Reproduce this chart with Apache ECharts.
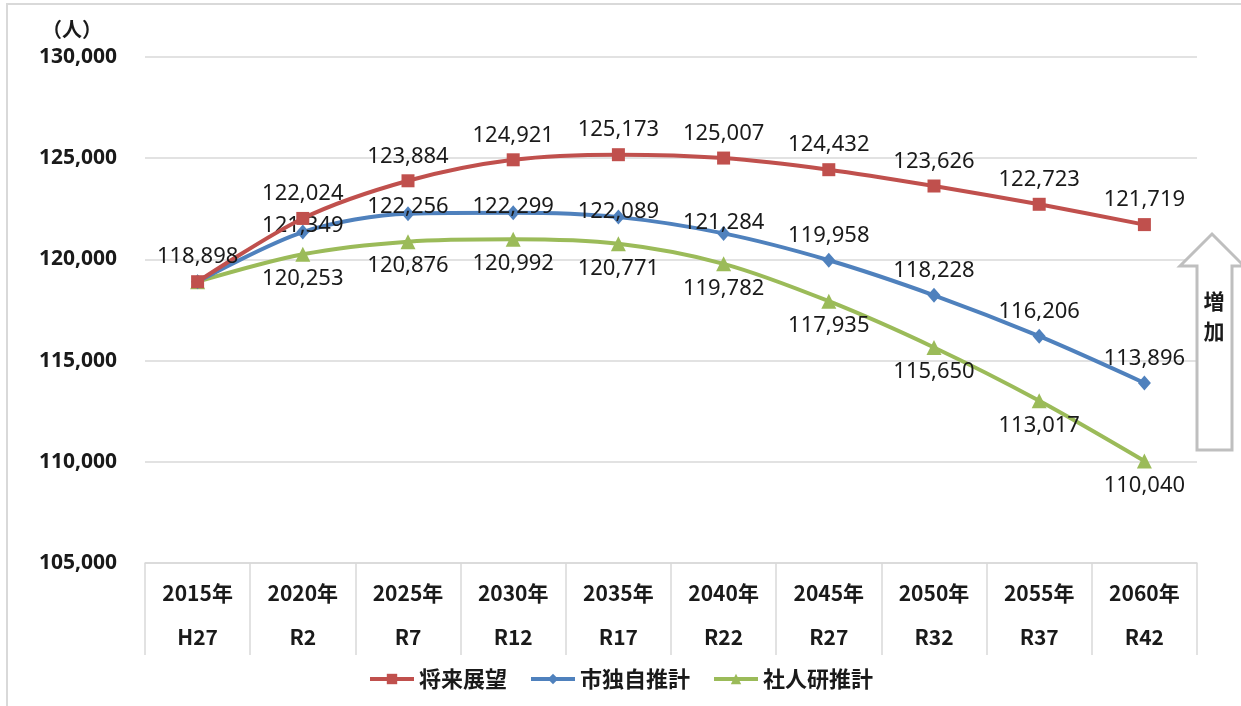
<!DOCTYPE html>
<html>
<head>
<meta charset="utf-8">
<script src="https://cdn.jsdelivr.net/npm/echarts@6/dist/echarts.min.js"></script>
<style>
  html, body { margin: 0; padding: 0; background: #fff; }
  #chart { width: 1241px; height: 706px; }
</style>
</head>
<body>
<div id="chart"></div>
<script>
// data
var years = ['2015年', '2020年', '2025年', '2030年', '2035年', '2040年', '2045年', '2050年', '2055年', '2060年'];
var eras = ['H27', 'R2', 'R7', 'R12', 'R17', 'R22', 'R27', 'R32', 'R37', 'R42'];
var seriesNames = ['将来展望', '市独自推計', '社人研推計'];
var shoraiTenbo = [118898, 122024, 123884, 124921, 125173, 125007, 124432, 123626, 122723, 121719];
var shiDokuji = [118898, 121349, 122256, 122299, 122089, 121284, 119958, 118228, 116206, 113896];
var shajinken = [118898, 120253, 120876, 120992, 120771, 119782, 117935, 115650, 113017, 110040];
var yTicks = [105000, 110000, 115000, 120000, 125000, 130000];

var chart = echarts.init(document.getElementById('chart'));

function fmt(v) {
    return Number(v).toLocaleString('en-US');
}

// blue labels sit on the line for the first points
var blueDrop = [0, 18, 17, 18, 19, 14, 0, 0, 0, 0];

function items(values, hideFirst, drops) {
    return values.map(function (v, i) {
        var it = { value: v };
        if (hideFirst && i === 0) {
            it.label = { show: false };
        } else if (drops && drops[i]) {
            it.label = { offset: [0, drops[i]] };
        }
        return it;
    });
}

var labelFont = {
    fontFamily: 'Noto Sans',
    fontSize: 22,
    color: '#1a1a1a'
};

var option = {
    backgroundColor: '#fff',
    animation: false,
    grid: {
        left: 145,
        right: 44,
        top: 57,
        bottom: 143
    },
    legend: {
        data: seriesNames,
        left: 'center',
        top: 663,
        itemWidth: 44,
        itemHeight: 13,
        itemGap: 22,
        lineStyle: { width: 4 },
        textStyle: {
            fontFamily: 'Noto Sans CJK JP',
            fontWeight: 'bold',
            fontSize: 22,
            color: '#1a1a1a'
        }
    },
    xAxis: {
        type: 'category',
        data: years,
        boundaryGap: true,
        axisLine: { lineStyle: { color: '#d9d9d9', width: 1.5 } },
        axisTick: {
            show: true,
            interval: 0,
            length: 92,
            lineStyle: { color: '#d9d9d9', width: 1.5 }
        },
        axisLabel: {
            interval: 0,
            margin: 8,
            lineHeight: 44,
            fontFamily: 'Noto Sans CJK JP',
            fontWeight: 'bold',
            fontSize: 21,
            color: '#1a1a1a',
            formatter: function (v, i) {
                return v + '\n' + eras[i];
            }
        }
    },
    yAxis: {
        type: 'value',
        min: yTicks[0],
        max: yTicks[yTicks.length - 1],
        interval: 5000,
        axisLine: { show: false },
        axisTick: { show: false },
        splitLine: { lineStyle: { color: '#d9d9d9', width: 1.5 } },
        axisLabel: {
            margin: 28,
            fontFamily: 'Noto Sans',
            fontWeight: 'bold',
            fontSize: 21,
            color: '#1a1a1a',
            formatter: fmt
        }
    },
    graphic: [
        {
            type: 'rect',
            shape: { x: 7, y: 4, width: 1250, height: 720 },
            style: { fill: 'none', stroke: '#d9d9d9', lineWidth: 2 },
            silent: true
        },
        {
            type: 'text',
            left: 42,
            top: 19,
            style: {
                text: '（人）',
                fontFamily: 'Noto Sans CJK JP',
                fontWeight: 'bold',
                fontSize: 20,
                fill: '#1a1a1a'
            }
        },
        {
            type: 'polygon',
            shape: {
                points: [[1212, 234], [1244, 266], [1232, 266], [1232, 450], [1197, 450], [1197, 266], [1180, 266]]
            },
            style: { fill: '#fff', stroke: '#bfbfbf', lineWidth: 3 },
            z: 10
        },
        {
            type: 'text',
            x: 1214,
            y: 316,
            style: {
                text: '増\n加',
                align: 'center',
                verticalAlign: 'middle',
                lineHeight: 30,
                fontFamily: 'Noto Sans CJK JP',
                fontWeight: 'bold',
                fontSize: 21,
                fill: '#1a1a1a'
            },
            z: 11
        }
    ],
    series: [
        {
            name: seriesNames[0],
            type: 'line',
            smooth: 0.3,
            data: items(shoraiTenbo, false, null),
            color: '#C0504D',
            lineStyle: { width: 4 },
            symbol: 'rect',
            symbolSize: 13,
            label: Object.assign({
                show: true,
                position: 'top',
                distance: 7,
                formatter: function (p) { return fmt(p.value); }
            }, labelFont),
            z: 3
        },
        {
            name: seriesNames[1],
            type: 'line',
            smooth: 0.3,
            data: items(shiDokuji, true, blueDrop),
            color: '#4F81BD',
            lineStyle: { width: 4 },
            symbol: 'diamond',
            symbolSize: [13, 15],
            label: Object.assign({
                show: true,
                position: 'top',
                distance: 6,
                formatter: function (p) { return fmt(p.value); }
            }, labelFont),
            z: 2
        },
        {
            name: seriesNames[2],
            type: 'line',
            smooth: 0.3,
            data: items(shajinken, true, null),
            color: '#9BBB59',
            lineStyle: { width: 4 },
            symbol: 'triangle',
            symbolSize: 15,
            label: Object.assign({
                show: true,
                position: 'bottom',
                distance: 6,
                formatter: function (p) { return fmt(p.value); }
            }, labelFont),
            z: 1
        }
    ]
};

chart.setOption(option);
</script>
</body>
</html>
